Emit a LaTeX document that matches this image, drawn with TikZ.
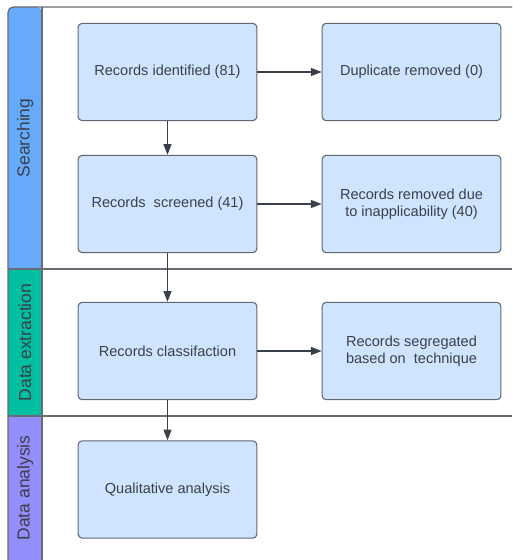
\documentclass[tikz,border=0pt]{standalone}
\usepackage{xcolor}
\usepackage{fontspec}
\setmainfont{Liberation Sans}
\usepackage{tikz}
\usetikzlibrary{arrows.meta, positioning}

\definecolor{cajafill}{RGB}{207,228,255}
\definecolor{cajaline}{RGB}{96,102,114}
\definecolor{texto}{RGB}{58,64,74}
\definecolor{carrilline}{RGB}{104,108,116}
\definecolor{azul}{RGB}{102,170,250}
\definecolor{verde}{RGB}{0,190,160}
\definecolor{morado}{RGB}{148,142,250}

\begin{document}
\begin{tikzpicture}[x=0.75pt, y=-0.75pt,
    caja/.style={draw=cajaline, fill=cajafill, rounded corners=3pt, line width=0.8pt,
                 minimum width=134pt, minimum height=73pt, align=center,
                 font=\fontsize{10.9}{13}\selectfont, text=texto},
    flecha/.style={-{Triangle[length=8pt, width=6pt]}, draw=texto, line width=0.8pt},
    carril/.style={draw=carrilline, line width=1pt},
    etiq/.style={rotate=90, font=\fontsize{13.1}{15}\selectfont, text=texto},
]
\useasboundingbox (0,0) rectangle (512,560);

%% Carriles: barra lateral de color y lineas divisorias
\fill[azul, rounded corners=4pt] (8,269) -- (8,7) -- (42,7) [sharp corners] -- (42,269) -- cycle;
\fill[verde]  (8,269) rectangle (42,416);
\fill[morado] (8,416) rectangle (42,560);
\draw[carril, rounded corners=4pt] (8,560) |- (512,7);
\draw[carril] (42,7) -- (42,560);
\draw[carril] (8,269) -- (512,269);
\draw[carril] (8,416) -- (512,416);

\node[etiq] (lsearch)  at (25,138)   {Searching};
\node[etiq] (lextract) at (25,342.5) {Data extraction};
\node[etiq] (lanalys)  at (25,488)   {Data analysis};

%% Cajas
\node[caja] (ident)  at (167.5,72)    {Records identified (81)};
\node[caja] (dup)    at (411.5,72)    {Duplicate removed (0)};
\node[caja] (screen) at (167.5,204)   {Records~ screened (41)};
\node[caja] (remov)  at (411.5,204)   {Records removed due\\to inapplicability (40)};
\node[caja] (clasif) at (167.5,351)   {Records classifaction};
\node[caja] (segreg) at (411.5,351)   {Records segregated\\based on~ technique};
\node[caja] (qual)   at (167.5,489.5) {Qualitative analysis};

%% Flechas
\draw[flecha] (ident)  -- (dup);
\draw[flecha] (ident)  -- (screen);
\draw[flecha] (screen) -- (remov);
\draw[flecha] (screen) -- (clasif);
\draw[flecha] (clasif) -- (segreg);
\draw[flecha] (clasif) -- (qual);
\end{tikzpicture}
\end{document}
